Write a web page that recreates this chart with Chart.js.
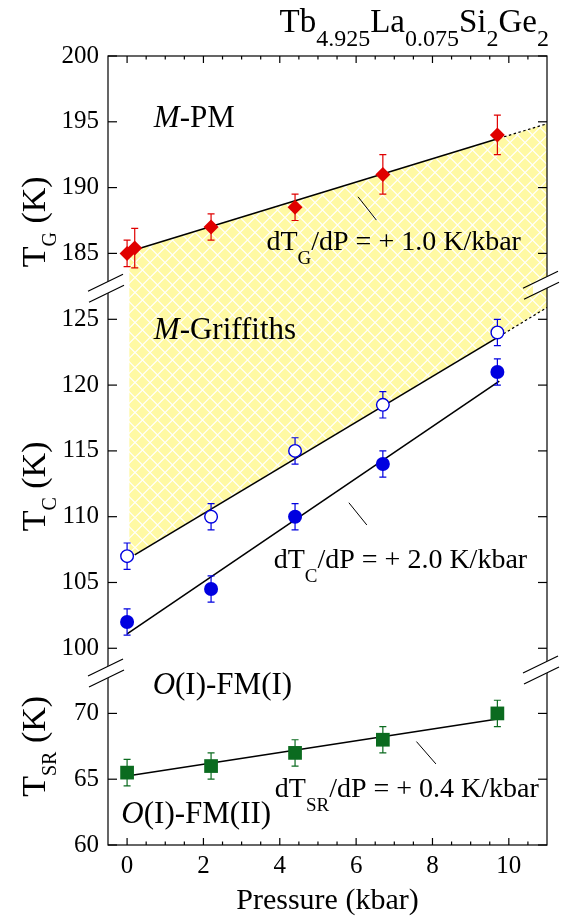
<!DOCTYPE html>
<html>
<head>
<meta charset="utf-8">
<script src="https://cdn.jsdelivr.net/npm/chart.js@4.4.1/dist/chart.umd.min.js"></script>
<style>
  html, body { margin: 0; padding: 0; background: #fff; }
  canvas { display: block; }
</style>
</head>
<body>
<canvas id="chart" width="561" height="919"></canvas>
<script>
// pressure (kbar)
const pressure = [0, 2.2, 4.4, 6.7, 9.7]
const pressureG = [0, 0.2, 2.2, 4.4, 6.7, 9.7]

// transition temperatures (K), with error bars
const tG = [185, 185.4, 187, 188.5, 191, 194]
const tGErr = [1, 1.5, 1, 1, 1.5, 1.5]
const tCOpen = [107, 110, 115, 118.5, 124]
const tCOpenErr = [1, 1, 1, 1, 1]
const tCFilled = [102, 104.5, 110, 114, 121]
const tCFilledErr = [1, 1, 1, 1, 1]
const tSR = [65.5, 66, 67, 68, 70]
const tSRErr = [1, 1, 1, 1, 1]

// fit lines (end points), ext = dotted extrapolation
const fitGX = [0.23, 9.75], fitGY = [185.3, 193.75]
const extGX = [9.75, 11], extGY = [193.75, 194.85]
const fitCOpenX = [0.2, 9.75], fitCOpenY = [107.1, 123.7]
const extCOpenX = [9.75, 11], extCOpenY = [123.7, 125.9]
const fitCFilledX = [0, 9.75], fitCFilledY = [101.1, 120.3]
const fitSRX = [0, 9.75], fitSRY = [65.25, 69.6]

// Griffiths band edges (top on the T_G axis, bottom on the T_C axis)
const bandX = [0.06, 11]
const bandTop = [185.15, 194.85]
const bandBottom = [106.9, 125.9]

// axis segments of the broken y axis
const xTicks = [0, 2, 4, 6, 8, 10]
const rangeG = [182.42, 200]
const rangeC = [98.2, 127.43]
const rangeSR = [60, 73.15]

const FONT = 'Liberation Serif'
const RED = '#e00000', BLUE = '#0000e0', GREEN = '#0b6b1f'

Chart.defaults.font.family = FONT
Chart.defaults.color = '#000'

const pts = (xs, ys) => xs.map((x, i) => ({x: x, y: ys[i]}))

const makeHatch = () => {
    const n = 15, h = n / 2
    const c = document.createElement('canvas')
    c.width = c.height = n
    const g = c.getContext('2d')
    g.fillStyle = '#fff9a3'
    g.fillRect(0, 0, n, n)
    g.strokeStyle = '#ffffff'
    g.lineWidth = 1.1
    g.beginPath()
    g.moveTo(0, h); g.lineTo(h, 0); g.lineTo(n, h); g.lineTo(h, n); g.closePath()
    g.stroke()
    return document.getElementById('chart').getContext('2d').createPattern(c, 'repeat')
}
const hatch = makeHatch()

const markers = (xs, ys, errs, axis, style, radius, fillCol, lineCol, bw) => ({
    data: pts(xs, ys), errors: errs, errColor: lineCol, yAxisID: axis,
    showLine: false, pointStyle: style, pointRadius: radius,
    backgroundColor: fillCol, borderColor: lineCol, borderWidth: bw, order: 0
})
const fitLine = (xs, ys, axis, dashed) => ({
    data: pts(xs, ys), yAxisID: axis, pointRadius: 0, fill: false,
    borderColor: '#000', borderWidth: dashed ? 1.2 : 1.6,
    borderDash: dashed ? [2.5, 2.5] : [], order: 1
})

// hatched band between the T_G and T_C fits, spanning the axis break
const band = {
    id: 'band',
    beforeDatasetsDraw(chart) {
        const {ctx, scales} = chart
        const sx = scales.x
        ctx.save()
        ctx.beginPath()
        bandX.forEach((x, i) => {
            const px = sx.getPixelForValue(x), py = scales.yG.getPixelForValue(bandTop[i])
            i ? ctx.lineTo(px, py) : ctx.moveTo(px, py)
        })
        for (let i = bandX.length - 1; i >= 0; i--) {
            ctx.lineTo(sx.getPixelForValue(bandX[i]), scales.yC.getPixelForValue(bandBottom[i]))
        }
        ctx.closePath()
        ctx.fillStyle = hatch
        ctx.fill()
        ctx.restore()
    }
}

// error bars are drawn just before each marker set
const errorBars = {
    id: 'errorBars',
    beforeDatasetDraw(chart, args) {
        const ds = chart.data.datasets[args.index]
        if (!ds.errors) return
        const ctx = chart.ctx
        const ys = args.meta.yScale
        ctx.save()
        ctx.strokeStyle = ds.errColor
        ctx.lineWidth = 1.2
        args.meta.data.forEach((p, i) => {
            const v = ds.data[i].y
            const top = ys.getPixelForValue(v + ds.errors[i])
            const bot = ys.getPixelForValue(v - ds.errors[i])
            ctx.beginPath()
            ctx.moveTo(p.x, top); ctx.lineTo(p.x, bot)
            ctx.moveTo(p.x - 3.5, top); ctx.lineTo(p.x + 3.5, top)
            ctx.moveTo(p.x - 3.5, bot); ctx.lineTo(p.x + 3.5, bot)
            ctx.stroke()
        })
        ctx.restore()
    }
}

const drawRuns = (ctx, x, y, runs, align) => {
    const fontOf = r => (r[2] ? 'italic ' : '') + r[1] + 'px "' + FONT + '"'
    let w = 0
    runs.forEach(r => { ctx.font = fontOf(r); w += ctx.measureText(r[0]).width })
    let cx = align === 'right' ? x - w : align === 'center' ? x - w / 2 : x
    runs.forEach(r => {
        ctx.font = fontOf(r)
        ctx.fillText(r[0], cx, y + (r[3] || 0))
        cx += ctx.measureText(r[0]).width
    })
}

// frame, inward ticks, axis breaks and all texts
const decorations = {
    id: 'decorations',
    afterDraw(chart) {
        const {ctx, chartArea: a, scales} = chart
        const sx = scales.x
        ctx.save()
        ctx.strokeStyle = '#000'
        ctx.lineWidth = 1.2
        const seg = (x1, y1, x2, y2) => { ctx.beginPath(); ctx.moveTo(x1, y1); ctx.lineTo(x2, y2); ctx.stroke() }

        // x ticks, majors at the labelled values, minors every 0.5
        for (let v = 0; v <= 10.5; v += 0.5) {
            const px = sx.getPixelForValue(v)
            const len = xTicks.includes(v) ? 7 : 3.5
            seg(px, a.bottom, px, a.bottom - len)
            seg(px, a.top, px, a.top + len)
        }
        ;['yG', 'yC', 'ySR'].forEach(id => {
            scales[id].ticks.forEach(t => {
                const py = scales[id].getPixelForValue(t.value)
                seg(a.left, py, a.left + 9, py)
                seg(a.right, py, a.right - 9, py)
            })
        })
        ctx.strokeRect(a.left, a.top, a.right - a.left, a.bottom - a.top)

        // axis breaks
        const brk = (cx, cy) => {
            ctx.fillStyle = '#fff'
            ctx.beginPath()
            ctx.moveTo(cx - 8, cy - 2); ctx.lineTo(cx + 8, cy - 10)
            ctx.lineTo(cx + 8, cy + 2); ctx.lineTo(cx - 8, cy + 10)
            ctx.closePath(); ctx.fill()
            seg(cx - 18, cy + 3, cx + 17, cy - 14)
            seg(cx - 17, cy + 14, cx + 18, cy - 3)
        }
        ;[scales.yG.bottom, scales.yC.bottom].forEach(by => {
            brk(a.left - 2, by + 1)
            brk(a.right - 6, by - 2)
        })

        // leader strokes next to the slope labels
        const lead = (id, x1, y1, x2, y2) => seg(sx.getPixelForValue(x1), scales[id].getPixelForValue(y1),
            sx.getPixelForValue(x2), scales[id].getPixelForValue(y2))
        ctx.lineWidth = 1
        lead('yG', 6.05, 189.3, 6.53, 187.53)
        lead('yC', 5.81, 111.06, 6.28, 109.37)
        lead('ySR', 7.58, 67.86, 8.09, 66.16)

        ctx.fillStyle = '#000'
        ctx.textBaseline = 'alphabetic'
        const at = (id, xv, yv, runs, align) => drawRuns(ctx, sx.getPixelForValue(xv), scales[id].getPixelForValue(yv), runs, align)
        at('yG', 0.7, 194.6, [['M', 31, true], ['-PM', 31]])
        at('yC', 0.7, 123.53, [['M', 31, true], ['-Griffiths', 31]])
        at('ySR', 0.67, 71.44, [['O', 31, true], ['(I)-FM(I)', 31]])
        at('ySR', -0.15, 61.7, [['O', 31, true], ['(I)-FM(II)', 31]])
        at('yG', 3.65, 185.23, [['dT', 28], ['G', 19, false, 14], ['/dP = + 1.0 K/kbar', 28]])
        at('yC', 3.84, 106.1, [['dT', 28], ['C', 19, false, 14], ['/dP = + 2.0 K/kbar', 28]])
        at('ySR', 3.87, 63.68, [['dT', 28], ['SR', 19, false, 14], ['/dP = + 0.4 K/kbar', 28]])

        // title
        drawRuns(ctx, 549, 32, [['Tb', 33], ['4.925', 24, false, 14], ['La', 33], ['0.075', 24, false, 14],
            ['Si', 33], ['2', 24, false, 14], ['Ge', 33], ['2', 24, false, 14]], 'right')

        // axis titles
        drawRuns(ctx, (a.left + a.right) / 2, 909, [['Pressure (kbar)', 30]], 'center')
        const yTitle = (id, yv, sub) => {
            ctx.save()
            ctx.translate(45, scales[id].getPixelForValue(yv))
            ctx.rotate(-Math.PI / 2)
            drawRuns(ctx, 0, 0, [['T', 34], [sub, 20, false, 11], [' (K)', 34]], 'center')
            ctx.restore()
        }
        yTitle('yG', 187.4, 'G')
        yTitle('yC', 112.3, 'C')
        yTitle('ySR', 67.5, 'SR')
        ctx.restore()
    }
}

const yAxis = (range, weight) => ({
    type: 'linear', position: 'left', stack: 'T', stackWeight: weight,
    min: range[0], max: range[1],
    ticks: {stepSize: 5, includeBounds: false, padding: 9, font: {size: 25}},
    grid: {display: false, drawTicks: false}, border: {display: false},
    afterFit: s => { s.width = 108 }
})

new Chart('chart', {
    type: 'line',
    data: {
        datasets: [
            markers(pressureG, tG, tGErr, 'yG', 'rectRot', 7.5, RED, RED, 0),
            markers(pressure, tCOpen, tCOpenErr, 'yC', 'circle', 6.3, '#fff', BLUE, 1.4),
            markers(pressure, tCFilled, tCFilledErr, 'yC', 'circle', 7, BLUE, BLUE, 0),
            markers(pressure, tSR, tSRErr, 'ySR', 'rect', 9.7, GREEN, GREEN, 0),
            fitLine(fitGX, fitGY, 'yG', false),
            fitLine(extGX, extGY, 'yG', true),
            fitLine(fitCOpenX, fitCOpenY, 'yC', false),
            fitLine(extCOpenX, extCOpenY, 'yC', true),
            fitLine(fitCFilledX, fitCFilledY, 'yC', false),
            fitLine(fitSRX, fitSRY, 'ySR', false)
        ]
    },
    options: {
        responsive: false,
        animation: false,
        events: [],
        layout: {padding: {top: 56, right: 14, bottom: 0, left: 0}},
        elements: {line: {tension: 0}},
        plugins: {legend: {display: false}, tooltip: {enabled: false}},
        scales: {
            x: {
                type: 'linear', min: -0.5, max: 11,
                ticks: {stepSize: 2, includeBounds: false, padding: 6, font: {size: 25}},
                grid: {display: false, drawTicks: false}, border: {display: false},
                afterFit: s => { s.height = 74 }
            },
            ySR: yAxis(rangeSR, rangeSR[1] - rangeSR[0]),
            yC: yAxis(rangeC, rangeC[1] - rangeC[0]),
            yG: yAxis(rangeG, rangeG[1] - rangeG[0])
        }
    },
    plugins: [band, errorBars, decorations]
})
</script>
</body>
</html>
